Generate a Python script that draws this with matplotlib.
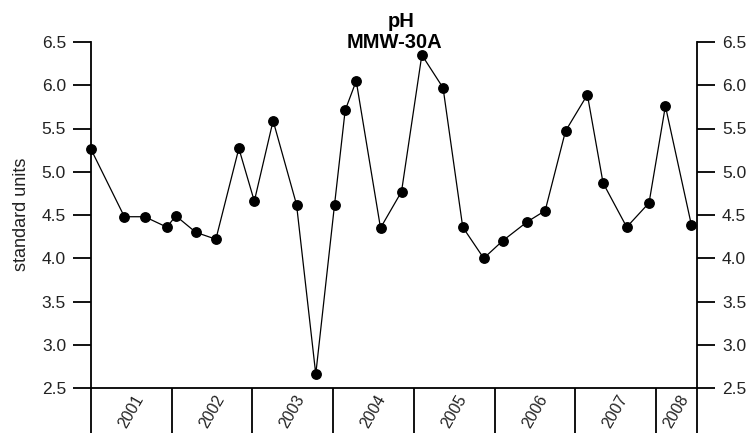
import numpy as np
import pandas as pd
import matplotlib
matplotlib.use("Agg")
import matplotlib.pyplot as plt
import matplotlib.dates as mdates

plt.rcParams['font.family'] = ['Liberation Sans', 'DejaVu Sans']

# sample dates and pH values
sample_dates = ['2001-01-01', '2001-06-01', '2001-09-01', '2001-12-10',
                '2002-01-20', '2002-04-20', '2002-07-20', '2002-11-01',
                '2003-01-10', '2003-04-05', '2003-07-20', '2003-10-15',
                '2004-01-08', '2004-02-25', '2004-04-15', '2004-08-03',
                '2004-11-06', '2005-02-06', '2005-05-13', '2005-08-10',
                '2005-11-13', '2006-02-06', '2006-05-28', '2006-08-18',
                '2006-11-18', '2007-02-25', '2007-05-07', '2007-08-22',
                '2007-12-01', '2008-02-13', '2008-06-10']
ph_values = [5.26, 4.48, 4.48, 4.36, 4.49, 4.30, 4.22, 5.27,
             4.66, 5.59, 4.62, 2.66, 4.62, 5.71, 6.05, 4.35,
             4.77, 6.35, 5.97, 4.36, 4.00, 4.20, 4.42, 4.55,
             5.47, 5.89, 4.87, 4.36, 4.64, 5.76, 4.38]
years = [2001, 2002, 2003, 2004, 2005, 2006, 2007, 2008]
yticks = [2.5, 3.0, 3.5, 4.0, 4.5, 5.0, 5.5, 6.0, 6.5]

x_start = pd.Timestamp('2001-01-01')
x_end = pd.Timestamp('2008-07-05')

dates = pd.to_datetime(sample_dates)

fig = plt.figure(figsize=(7.55, 4.33), dpi=100)
ax = fig.add_axes([91/755, 1 - 388/433, (697 - 91)/755, (388 - 42)/433])

ax.plot(dates, ph_values, color='black', lw=0.9, marker='o', ms=6.8,
        mfc='black', mec='black', clip_on=False, zorder=3)

ax.set_xlim(x_start, x_end)
ax.set_ylim(2.5, 6.5)

# year boundaries as long ticks, year names in the middle of each span
bounds = [pd.Timestamp(f'{y}-01-01') for y in years] + [x_end]
mids = []
for i in range(len(years)):
    mids.append(bounds[i] + (bounds[i + 1] - bounds[i]) / 2)
ax.set_xticks(mdates.date2num(bounds))
ax.set_xticklabels([''] * len(bounds))
ax.set_xticks(mdates.date2num(mids), minor=True)
ax.set_xticklabels([str(y) for y in years], minor=True, rotation=60,
                   fontsize=11.5, color='#222222')
ax.tick_params(axis='x', which='major', direction='out', length=40,
               width=1.3, color='black')
ax.tick_params(axis='x', which='minor', length=0, pad=3)

ax.set_yticks(yticks)
ax.set_yticklabels([f'{v:.1f}' for v in yticks])
ax.tick_params(axis='y', which='major', left=True, right=True,
               labelleft=True, labelright=True, direction='out',
               length=13, width=1.3, labelsize=12.5, labelcolor='#222222', pad=5)

for s in ['left', 'right', 'bottom']:
    ax.spines[s].set_linewidth(1.3)
ax.spines['top'].set_visible(False)

ax.set_ylabel('standard units', fontsize=13, color='#222222',
              va='center')
ax.yaxis.set_label_coords((22 - 91) / 606, 0.503)

# two-line title, second line dips onto the top of the plot
cx = (91 + 697) / 2 / 755
fig.text(cx + 0.01, 1 - 27/433, 'pH', ha='center', va='baseline',
         fontsize=14.5, fontweight='bold')
fig.text(cx, 1 - 48/433, 'MMW-30A', ha='center', va='baseline',
         fontsize=14.5, fontweight='bold')

fig.savefig('out.png', dpi=100)
